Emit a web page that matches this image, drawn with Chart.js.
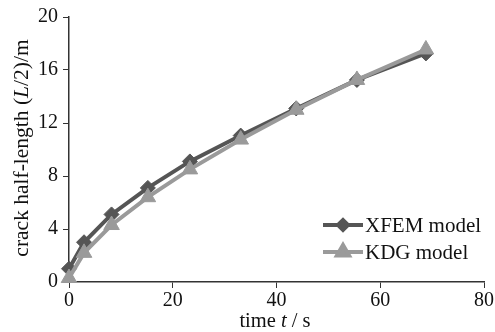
<!DOCTYPE html>
<html>
<head>
<meta charset="utf-8">
<script src="https://cdn.jsdelivr.net/npm/chart.js@4.4.1/dist/chart.umd.min.js"></script>
<style>
  html, body { margin: 0; padding: 0; background: #fff; }
  #wrap { width: 495px; height: 332px; position: relative; }
</style>
</head>
<body>
<div id="wrap"><canvas id="myChart"></canvas></div>
<script>
// values
const timeS = [0, 2.9, 8.2, 15.2, 23.3, 33.1, 43.8, 55.5, 68.8];
const xfemL = [1.0, 3.0, 5.1, 7.1, 9.1, 11.05, 13.1, 15.25, 17.25];
const kdgL  = [0.3, 2.2, 4.3, 6.4, 8.5, 10.75, 13.0, 15.25, 17.55];
const seriesNames = ["XFEM model", "KDG model"];

const FONT = "'Liberation Serif', 'Times New Roman', serif";
const darkGray = "#555555";
const lightGray = "#9a9a9a";
const axisColor = "#333333";

function toPoints(xs, ys) {
  let pts = [];
  for (let i = 0; i < xs.length; i++) {
    pts.push({ x: xs[i], y: ys[i] });
  }
  return pts;
}

// draw a string made of plain and italic pieces, centred at (0,0)
function drawMixed(ctx, parts, size) {
  let total = 0;
  parts.forEach(p => {
    ctx.font = (p.i ? "italic " : "") + size + "px " + FONT;
    p.w = ctx.measureText(p.t).width;
    total += p.w;
  });
  let x = -total / 2;
  parts.forEach(p => {
    ctx.font = (p.i ? "italic " : "") + size + "px " + FONT;
    ctx.fillText(p.t, x, 0);
    x += p.w;
  });
}

const titlesAndLegend = {
  id: "titlesAndLegend",
  afterDraw(chart) {
    const ctx = chart.ctx;
    ctx.save();
    ctx.fillStyle = "#111";
    ctx.textBaseline = "middle";
    ctx.textAlign = "left";

    // x title
    ctx.save();
    ctx.translate(275, 322);
    drawMixed(ctx, [{ t: "time ", i: false }, { t: "t", i: true }, { t: " / s", i: false }], 20.5);
    ctx.restore();

    // y title
    ctx.save();
    ctx.translate(22, 148);
    ctx.rotate(-Math.PI / 2);
    drawMixed(ctx, [{ t: "crack half-length (", i: false }, { t: "L", i: true }, { t: "/2)/m", i: false }], 21.5);
    ctx.restore();

    // legend inside plot
    const rows = [
      { name: seriesNames[0], color: darkGray, style: "rectRot", r: 5, y: 225 },
      { name: seriesNames[1], color: lightGray, style: "triangle", r: 7, y: 252 }
    ];
    rows.forEach(row => {
      ctx.strokeStyle = row.color;
      ctx.lineWidth = 4;
      ctx.beginPath();
      ctx.moveTo(323, row.y);
      ctx.lineTo(363, row.y);
      ctx.stroke();
      ctx.fillStyle = row.color;
      Chart.helpers.drawPoint(ctx, { pointStyle: row.style, radius: row.r, borderWidth: 1 }, 343, row.y);
      ctx.fillStyle = "#111";
      ctx.font = "21px " + FONT;
      ctx.fillText(row.name, 365, row.y + 1);
    });
    ctx.restore();
  }
};

const ctx = document.getElementById("myChart");

new Chart(ctx, {
  type: "line",
  data: {
    datasets: [
      {
        label: seriesNames[0],
        data: toPoints(timeS, xfemL),
        borderColor: darkGray,
        backgroundColor: darkGray,
        borderWidth: 4,
        pointStyle: "rectRot",
        pointRadius: 7.5,
        pointBorderWidth: 1,
        tension: 0,
        clip: false,
        order: 1
      },
      {
        label: seriesNames[1],
        data: toPoints(timeS, kdgL),
        borderColor: lightGray,
        backgroundColor: lightGray,
        borderWidth: 4,
        pointStyle: "triangle",
        pointRadius: 9,
        pointBorderWidth: 1,
        tension: 0,
        clip: false,
        order: 0
      }
    ]
  },
  options: {
    responsive: true,
    maintainAspectRatio: false,
    animation: false,
    layout: { padding: { top: 16, right: 10, left: 0, bottom: 0 } },
    plugins: {
      legend: { display: false },
      tooltip: { enabled: false }
    },
    scales: {
      x: {
        type: "linear",
        min: 0,
        max: 80,
        afterFit(scale) { scale.height = 50; },
        grid: {
          display: true,
          drawOnChartArea: false,
          drawTicks: true,
          tickLength: 6,
          color: axisColor,
          lineWidth: 1
        },
        border: { display: true, color: axisColor, width: 1.5 },
        ticks: {
          stepSize: 20,
          padding: 1,
          color: "#111",
          font: { family: FONT, size: 20 },
          maxRotation: 0
        }
      },
      y: {
        min: 0,
        max: 20,
        afterFit(scale) { scale.width = 69; },
        grid: {
          display: true,
          drawOnChartArea: false,
          drawTicks: true,
          tickLength: 6,
          color: axisColor,
          lineWidth: 1
        },
        border: { display: true, color: axisColor, width: 1.5 },
        ticks: {
          stepSize: 2,
          padding: 5,
          color: "#111",
          font: { family: FONT, size: 20 },
          callback: function(v) { return v % 4 === 0 ? v : ""; }
        }
      }
    }
  },
  plugins: [titlesAndLegend]
});
</script>
</body>
</html>
